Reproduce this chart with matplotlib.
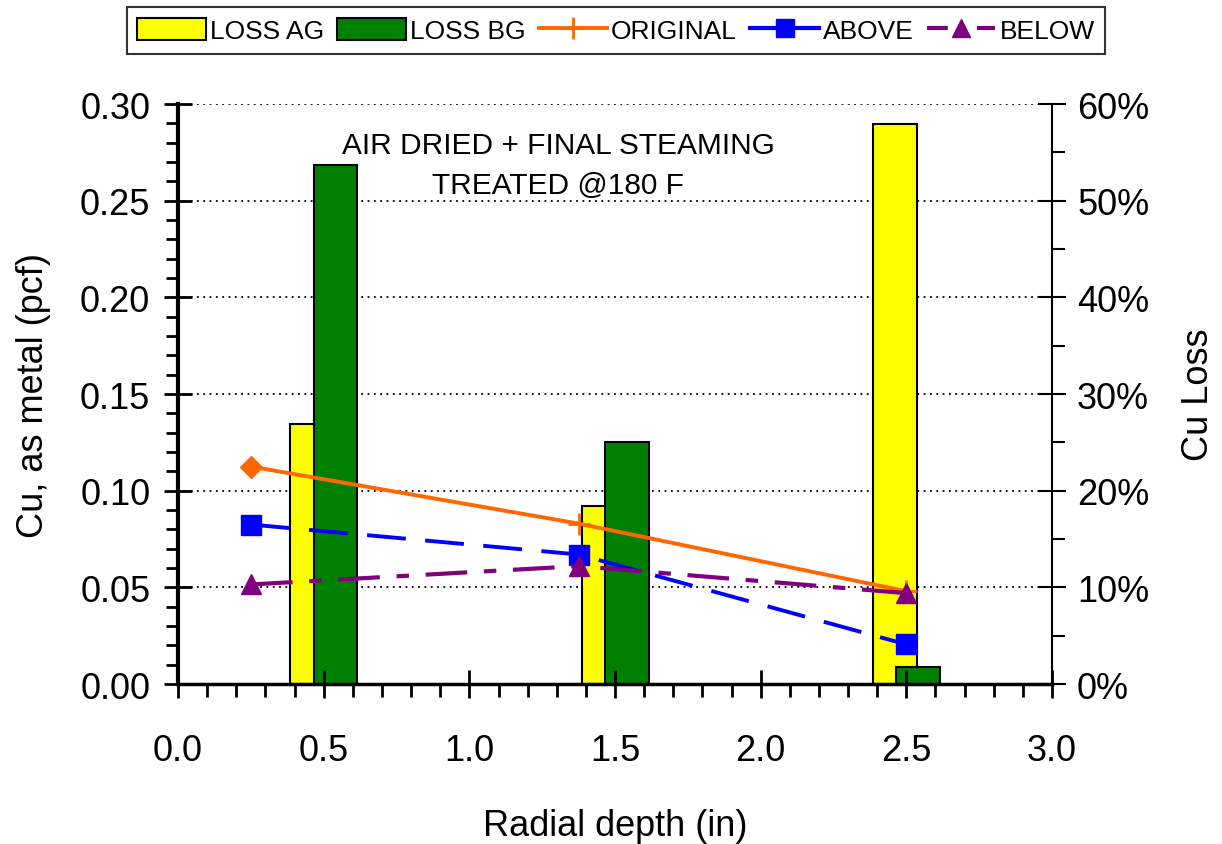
import numpy as np
import matplotlib.pyplot as plt
from matplotlib.ticker import MultipleLocator, PercentFormatter
from matplotlib.lines import Line2D
from matplotlib.patches import Patch

plt.rcParams['font.family'] = ['Liberation Sans', 'DejaVu Sans']

# bar data (percent loss, right axis)
depth_bar = np.array([0.5, 1.5, 2.5])
loss_ag = np.array([26.9, 18.4, 57.9])
loss_bg = np.array([53.7, 25.0, 1.8])

# line data (Cu retention, left axis)
depth_line = np.array([0.25, 1.375, 2.5])
original = np.array([0.1125, 0.083, 0.048])
above = np.array([0.0825, 0.067, 0.0205])
below = np.array([0.0515, 0.061, 0.047])

fig = plt.figure(figsize=(12.22, 8.45), dpi=100)
ax = fig.add_axes([0.1457, 0.1893, 0.7152, 0.6864])
ax2 = ax.twinx()
ax.set_zorder(ax2.get_zorder() + 1)
ax.patch.set_visible(False)
ax2.set_facecolor('#FFFFCC')

# bars on the right (percent) axis, green drawn over yellow
w = 0.15
ax2.bar(depth_bar - 0.04, loss_ag, width=w, color='#FFFF00', edgecolor='black', lw=1.5, zorder=2)
ax2.bar(depth_bar + 0.04, loss_bg, width=w, color='#008000', edgecolor='black', lw=1.5, zorder=3)
ax2.set_ylim(0, 60)
ax2.yaxis.set_major_locator(MultipleLocator(10))
ax2.yaxis.set_minor_locator(MultipleLocator(5))
ax2.yaxis.set_major_formatter(PercentFormatter(decimals=0))
ax2.grid(axis='y', ls=(0, (1, 2.5)), color='black', lw=1.3, zorder=1)
ax2.set_axisbelow(True)
ax2.set_ylabel('Cu Loss', fontsize=26, labelpad=23)

# lines on the left axis
ax.plot(depth_line, original, color='#FF6600', lw=2.8)
ax.plot(depth_line[:1], original[:1], 'D', color='#FF6600', ms=11)
ax.plot(depth_line[1:], original[1:], '+', color='#FF6600', ms=16, mew=2)
ax.plot(depth_line, above, color='#0000FF', lw=2.8, ls=(0, (10, 5)),
        marker='s', ms=14)
ax.plot(depth_line, below, color='#800080', lw=3, ls=(0, (10, 4, 3, 4)),
        marker='^', ms=15)

ax.set_xlim(0, 3.0)
ax.set_ylim(0, 0.30)
ax.xaxis.set_major_locator(MultipleLocator(0.5))
ax.xaxis.set_minor_locator(MultipleLocator(0.1))
ax.yaxis.set_major_locator(MultipleLocator(0.05))
ax.yaxis.set_minor_locator(MultipleLocator(0.01))
ax.xaxis.set_major_formatter(lambda v, p: f'{v:.1f}')
ax.yaxis.set_major_formatter(lambda v, p: f'{v:.2f}')

ax.tick_params(axis='x', which='major', direction='inout', length=20, width=2,
               labelsize=26, pad=25)
ax.tick_params(axis='x', which='minor', direction='out', length=9, width=2)
ax.tick_params(axis='y', which='major', direction='inout', length=20, width=2,
               labelsize=26, pad=10)
ax.tick_params(axis='y', which='minor', direction='out', length=9, width=2)
ax2.tick_params(axis='y', which='major', direction='inout', length=20, width=1.5,
                labelsize=26, pad=8)
ax2.tick_params(axis='y', which='minor', direction='out', length=9, width=1.5)

for a in (ax, ax2):
    a.spines['top'].set_visible(False)
ax.spines['left'].set_linewidth(3)
ax.spines['bottom'].set_linewidth(2.5)
ax2.spines['left'].set_visible(False)
ax2.spines['bottom'].set_visible(False)
ax.spines['right'].set_visible(False)
ax2.spines['right'].set_linewidth(1.5)

ax.set_xlabel('Radial depth (in)', fontsize=26, labelpad=29)
ax.set_ylabel('Cu, as metal (pcf)', fontsize=26, labelpad=21)

ax.text(0.435, 0.953, 'AIR DRIED + FINAL STEAMING\nTREATED @180 F',
        transform=ax.transAxes, ha='center', va='top', fontsize=21.5,
        linespacing=1.55)

handles = [
    Patch(facecolor='#FFFF00', edgecolor='black', lw=1.5),
    Patch(facecolor='#008000', edgecolor='black', lw=1.5),
    Line2D([], [], color='#FF6600', lw=2.8, marker='+', ms=16, mew=2),
    Line2D([], [], color='#0000FF', lw=3, marker='s', ms=13),
    Line2D([], [], color='#800080', lw=3, ls=(0, (5, 3, 1, 3)), marker='^', ms=13),
]
labels = ['LOSS AG', 'LOSS BG', 'ORIGINAL', 'ABOVE', 'BELOW']
leg = fig.legend(handles, labels, loc='upper center', bbox_to_anchor=(0.504, 0.99),
                 borderaxespad=0, ncol=5, fontsize=19, frameon=True, fancybox=False,
                 edgecolor='black', handlelength=2.6, handleheight=0.9,
                 handletextpad=0.15, columnspacing=0.5, borderpad=0.4)
leg.get_frame().set_linewidth(1.5)

fig.savefig('out.png', dpi=100)
